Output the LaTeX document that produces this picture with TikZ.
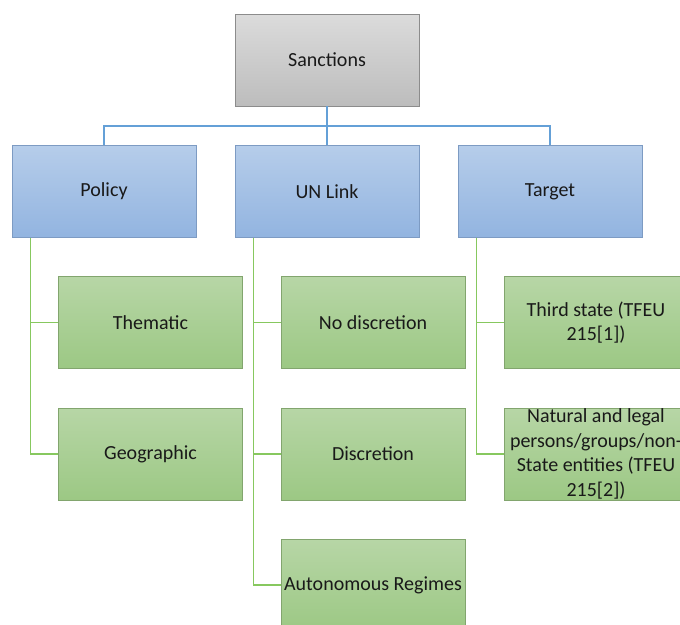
\documentclass[tikz,border=0pt]{standalone}
\usepackage{fontspec}
\setmainfont{Carlito}
\begin{document}
\begin{tikzpicture}[x=1pt,y=-1pt,
  box/.style={draw, line width=0.8pt, minimum width=184pt, minimum height=92pt,
    inner sep=0pt, align=center, font=\fontsize{20}{24.5}\selectfont, text=black!90},
  graybox/.style={box, draw=black!45, top color=black!14, bottom color=black!26},
  bluebox/.style={box, draw={rgb,255:red,125;green,155;blue,195}, top color={rgb,255:red,182;green,205;blue,234}, bottom color={rgb,255:red,146;green,180;blue,224}},
  greenbox/.style={box, draw={rgb,255:red,130;green,165;blue,110}, top color={rgb,255:red,183;green,214;blue,166}, bottom color={rgb,255:red,156;green,200;blue,132}},
  blueline/.style={draw={rgb,255:red,100;green,160;blue,215}, line width=1.6pt},
  greenline/.style={draw={rgb,255:red,135;green,200;blue,95}, line width=1.6pt}]
\useasboundingbox (0,0) rectangle (680,624);
\clip (0,0) rectangle (680,624);
\fill[white] (0,0) rectangle (680,624);
\coordinate (bus) at (0,126);
\node[graybox] (S) at (327,60) {Sanctions};
\node[bluebox] (P) at (104,191.5) {Policy};
\node[bluebox] (U) at (327,191.5) {UN Link};
\node[bluebox] (T) at (550,191.5) {Target};
\draw[blueline] (S.south) -- (S.south|-bus);
\draw[blueline] (S.south|-bus) -| (P.north);
\draw[blueline] (S.south|-bus) -| (T.north);
\draw[blueline] (S.south|-bus) -- (U.north);
\node[greenbox] (Th) at (150.5,322.5) {Thematic};
\node[greenbox] (Ge) at (150.5,454) {Geographic};
\node[greenbox] (Nd) at (373,322.5) {No discretion};
\node[greenbox] (Di) at (373,454) {Discretion};
\node[greenbox] (Au) at (373,585) {Autonomous Regimes};
\node[greenbox] (Ts) at (596,322.5) {Third state (TFEU\\215[1])};
\node[greenbox] (Na) at (596,454) {Natural and legal\\persons/groups/non-\\State entities (TFEU\\215[2])};
\draw[greenline] ([xshift=19pt]P.south west) |- (Th.west);
\draw[greenline] ([xshift=19pt]P.south west) |- (Ge.west);
\draw[greenline] ([xshift=19pt]U.south west) |- (Nd.west);
\draw[greenline] ([xshift=19pt]U.south west) |- (Di.west);
\draw[greenline] ([xshift=19pt]U.south west) |- (Au.west);
\draw[greenline] ([xshift=19pt]T.south west) |- (Ts.west);
\draw[greenline] ([xshift=19pt]T.south west) |- (Na.west);
\end{tikzpicture}
\end{document}
